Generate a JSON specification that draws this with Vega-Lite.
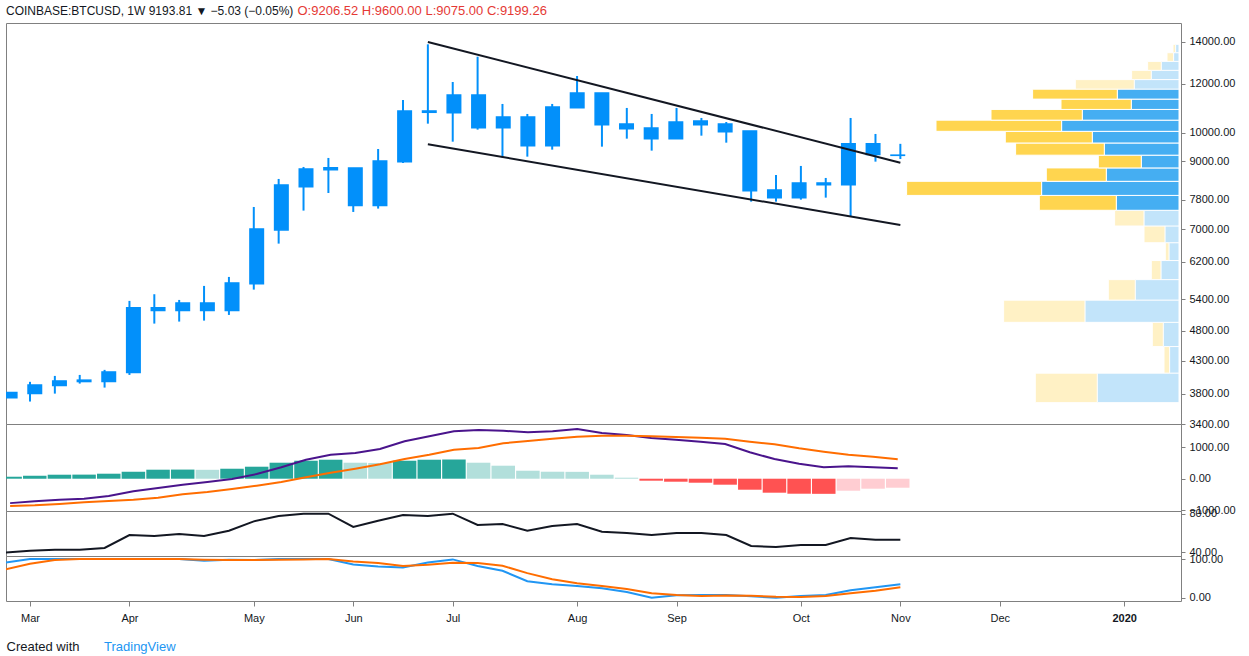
{
  "$schema": "https://vega.github.io/schema/vega-lite/v6.json",
  "padding": {"left": 5, "top": 4, "right": 0, "bottom": 0},
  "background": "white",
  "bounds": "flush",
  "spacing": 0,
  "title": {"text": "O:9206.52 H:9600.00 L:9075.00 C:9199.26", "orient": "top", "anchor": "start", "offset": -13, "dx": 292, "font": "Liberation Sans", "fontSize": 13, "fontWeight": "normal", "color": "#e53935"},
  "datasets": {
    "candles": [
      {"date": "2019-02-25", "o": 3749, "h": 3822, "l": 3745, "c": 3820},
      {"date": "2019-03-04", "o": 3805, "h": 3975, "l": 3695, "c": 3930},
      {"date": "2019-03-11", "o": 3920, "h": 4063, "l": 3805, "c": 3989},
      {"date": "2019-03-18", "o": 3979, "h": 4078, "l": 3949, "c": 4000},
      {"date": "2019-03-25", "o": 3979, "h": 4155, "l": 3891, "c": 4124},
      {"date": "2019-04-01", "o": 4113, "h": 5365, "l": 4078, "c": 5228},
      {"date": "2019-04-08", "o": 5228, "h": 5499, "l": 4932, "c": 5175},
      {"date": "2019-04-15", "o": 5175, "h": 5384, "l": 4969, "c": 5324},
      {"date": "2019-04-22", "o": 5324, "h": 5671, "l": 4987, "c": 5175},
      {"date": "2019-04-29", "o": 5175, "h": 5863, "l": 5093, "c": 5735},
      {"date": "2019-05-06", "o": 5719, "h": 7598, "l": 5594, "c": 7004},
      {"date": "2019-05-13", "o": 6978, "h": 8429, "l": 6633, "c": 8244},
      {"date": "2019-05-20", "o": 8191, "h": 8812, "l": 7496, "c": 8747},
      {"date": "2019-05-27", "o": 8789, "h": 9111, "l": 8002, "c": 8724},
      {"date": "2019-06-03", "o": 8779, "h": 8779, "l": 7459, "c": 7636},
      {"date": "2019-06-10", "o": 7636, "h": 9419, "l": 7552, "c": 9010},
      {"date": "2019-06-17", "o": 8987, "h": 11294, "l": 8943, "c": 10843},
      {"date": "2019-06-24", "o": 10843, "h": 13880, "l": 10345, "c": 10790},
      {"date": "2019-07-01", "o": 10775, "h": 12072, "l": 9677, "c": 11505},
      {"date": "2019-07-08", "o": 11505, "h": 13258, "l": 10118, "c": 10192},
      {"date": "2019-07-15", "o": 10192, "h": 11129, "l": 9121, "c": 10605},
      {"date": "2019-07-22", "o": 10605, "h": 10724, "l": 9155, "c": 9535},
      {"date": "2019-07-29", "o": 9535, "h": 11129, "l": 9395, "c": 11004},
      {"date": "2019-08-05", "o": 10976, "h": 12343, "l": 10976, "c": 11591},
      {"date": "2019-08-12", "o": 11591, "h": 11591, "l": 9500, "c": 10307},
      {"date": "2019-08-19", "o": 10333, "h": 10965, "l": 9786, "c": 10154},
      {"date": "2019-08-26", "o": 10181, "h": 10724, "l": 9361, "c": 9786},
      {"date": "2019-09-02", "o": 9786, "h": 10965, "l": 9786, "c": 10410},
      {"date": "2019-09-09", "o": 10448, "h": 10566, "l": 9895, "c": 10307},
      {"date": "2019-09-16", "o": 10333, "h": 10410, "l": 9642, "c": 10042},
      {"date": "2019-09-23", "o": 10069, "h": 10069, "l": 7749, "c": 8071},
      {"date": "2019-09-30", "o": 8092, "h": 8554, "l": 7749, "c": 7865},
      {"date": "2019-10-07", "o": 7865, "h": 8845, "l": 7806, "c": 8305},
      {"date": "2019-10-14", "o": 8305, "h": 8460, "l": 7865, "c": 8253},
      {"date": "2019-10-21", "o": 8253, "h": 10566, "l": 7330, "c": 9606},
      {"date": "2019-10-28", "o": 9606, "h": 9958, "l": 8987, "c": 9224},
      {"date": "2019-11-04", "o": 9206.52, "h": 9600, "l": 9075, "c": 9199.26}
    ],
    "trend": [
      {"line": "upper", "date": "2019-06-24", "price": 14000},
      {"line": "upper", "date": "2019-11-04", "price": 8953},
      {"line": "lower", "date": "2019-06-24", "price": 9585},
      {"line": "lower", "date": "2019-11-04", "price": 7108}
    ],
    "profile": [
      {"lo": 3680, "hi": 4105, "side": "up", "vol": 81.7, "va": "out"},
      {"lo": 3680, "hi": 4105, "side": "down", "vol": 62, "va": "out"},
      {"lo": 4105, "hi": 4530, "side": "up", "vol": 9.4, "va": "out"},
      {"lo": 4105, "hi": 4530, "side": "down", "vol": 5.6, "va": "out"},
      {"lo": 4530, "hi": 4955, "side": "up", "vol": 15.7, "va": "out"},
      {"lo": 4530, "hi": 4955, "side": "down", "vol": 11, "va": "out"},
      {"lo": 4955, "hi": 5380, "side": "up", "vol": 94, "va": "out"},
      {"lo": 4955, "hi": 5380, "side": "down", "vol": 81.4, "va": "out"},
      {"lo": 5380, "hi": 5805, "side": "up", "vol": 43.7, "va": "out"},
      {"lo": 5380, "hi": 5805, "side": "down", "vol": 27, "va": "out"},
      {"lo": 5805, "hi": 6230, "side": "up", "vol": 18, "va": "out"},
      {"lo": 5805, "hi": 6230, "side": "down", "vol": 9.7, "va": "out"},
      {"lo": 6230, "hi": 6655, "side": "up", "vol": 10, "va": "out"},
      {"lo": 6230, "hi": 6655, "side": "down", "vol": 3.7, "va": "out"},
      {"lo": 6655, "hi": 7080, "side": "up", "vol": 14, "va": "out"},
      {"lo": 6655, "hi": 7080, "side": "down", "vol": 21, "va": "out"},
      {"lo": 7080, "hi": 7505, "side": "up", "vol": 35, "va": "out"},
      {"lo": 7080, "hi": 7505, "side": "down", "vol": 29.4, "va": "out"},
      {"lo": 7505, "hi": 7930, "side": "up", "vol": 62.7, "va": "in"},
      {"lo": 7505, "hi": 7930, "side": "down", "vol": 77, "va": "in"},
      {"lo": 7930, "hi": 8355, "side": "up", "vol": 137.4, "va": "in"},
      {"lo": 7930, "hi": 8355, "side": "down", "vol": 135, "va": "in"},
      {"lo": 8355, "hi": 8780, "side": "up", "vol": 72.7, "va": "in"},
      {"lo": 8355, "hi": 8780, "side": "down", "vol": 60, "va": "in"},
      {"lo": 8780, "hi": 9205, "side": "up", "vol": 37.7, "va": "in"},
      {"lo": 8780, "hi": 9205, "side": "down", "vol": 43, "va": "in"},
      {"lo": 9205, "hi": 9630, "side": "up", "vol": 74.7, "va": "in"},
      {"lo": 9205, "hi": 9630, "side": "down", "vol": 88.7, "va": "in"},
      {"lo": 9630, "hi": 10055, "side": "up", "vol": 86.7, "va": "in"},
      {"lo": 9630, "hi": 10055, "side": "down", "vol": 87, "va": "in"},
      {"lo": 10055, "hi": 10480, "side": "up", "vol": 117.4, "va": "in"},
      {"lo": 10055, "hi": 10480, "side": "down", "vol": 125.6, "va": "in"},
      {"lo": 10480, "hi": 10905, "side": "up", "vol": 96.7, "va": "in"},
      {"lo": 10480, "hi": 10905, "side": "down", "vol": 91.3, "va": "in"},
      {"lo": 10905, "hi": 11330, "side": "up", "vol": 47.7, "va": "in"},
      {"lo": 10905, "hi": 11330, "side": "down", "vol": 70.3, "va": "in"},
      {"lo": 11330, "hi": 11755, "side": "up", "vol": 61.7, "va": "in"},
      {"lo": 11330, "hi": 11755, "side": "down", "vol": 84.7, "va": "in"},
      {"lo": 11755, "hi": 12180, "side": "up", "vol": 44.7, "va": "out"},
      {"lo": 11755, "hi": 12180, "side": "down", "vol": 59, "va": "out"},
      {"lo": 12180, "hi": 12605, "side": "up", "vol": 27.7, "va": "out"},
      {"lo": 12180, "hi": 12605, "side": "down", "vol": 19.7, "va": "out"},
      {"lo": 12605, "hi": 13030, "side": "up", "vol": 17.7, "va": "out"},
      {"lo": 12605, "hi": 13030, "side": "down", "vol": 13.7, "va": "out"},
      {"lo": 13030, "hi": 13455, "side": "up", "vol": 5.4, "va": "out"},
      {"lo": 13030, "hi": 13455, "side": "down", "vol": 6.6, "va": "out"},
      {"lo": 13455, "hi": 13880, "side": "up", "vol": 3.4, "va": "out"},
      {"lo": 13455, "hi": 13880, "side": "down", "vol": 2.6, "va": "out"}
    ],
    "ind": [
      {"date": "2019-02-25", "hist": 63, "state": "grow_up", "macd": -775, "signal": -867, "rsi": 39.7, "k": 90.4, "d": 73},
      {"date": "2019-03-04", "hist": 95, "state": "grow_up", "macd": -718, "signal": -845, "rsi": 41.8, "k": 100, "d": 87.8},
      {"date": "2019-03-11", "hist": 127, "state": "grow_up", "macd": -667, "signal": -803, "rsi": 42.8, "k": 100, "d": 97.4},
      {"date": "2019-03-18", "hist": 130, "state": "grow_up", "macd": -635, "signal": -749, "rsi": 42.8, "k": 100, "d": 100},
      {"date": "2019-03-25", "hist": 159, "state": "grow_up", "macd": -549, "signal": -708, "rsi": 44.6, "k": 100, "d": 100},
      {"date": "2019-04-01", "hist": 222, "state": "grow_up", "macd": -400, "signal": -667, "rsi": 58.1, "k": 100, "d": 100},
      {"date": "2019-04-08", "hist": 286, "state": "grow_up", "macd": -295, "signal": -603, "rsi": 57.1, "k": 100, "d": 100},
      {"date": "2019-04-15", "hist": 290, "state": "grow_up", "macd": -190, "signal": -495, "rsi": 59.2, "k": 100, "d": 100},
      {"date": "2019-04-22", "hist": 283, "state": "fall_up", "macd": -105, "signal": -422, "rsi": 57.1, "k": 95.6, "d": 98.2},
      {"date": "2019-04-29", "hist": 317, "state": "grow_up", "macd": -10, "signal": -327, "rsi": 62.6, "k": 98, "d": 97.4},
      {"date": "2019-05-06", "hist": 381, "state": "grow_up", "macd": 149, "signal": -222, "rsi": 72.3, "k": 97.4, "d": 97.4},
      {"date": "2019-05-13", "hist": 508, "state": "grow_up", "macd": 362, "signal": -105, "rsi": 77.9, "k": 100, "d": 98},
      {"date": "2019-05-20", "hist": 571, "state": "grow_up", "macd": 603, "signal": 44, "rsi": 80.3, "k": 100, "d": 99},
      {"date": "2019-05-27", "hist": 603, "state": "grow_up", "macd": 762, "signal": 190, "rsi": 80.3, "k": 100, "d": 100},
      {"date": "2019-06-03", "hist": 508, "state": "fall_up", "macd": 816, "signal": 317, "rsi": 66.5, "k": 86, "d": 93.8},
      {"date": "2019-06-10", "hist": 500, "state": "fall_up", "macd": 943, "signal": 457, "rsi": 73, "k": 80.7, "d": 89.5},
      {"date": "2019-06-17", "hist": 571, "state": "grow_up", "macd": 1187, "signal": 625, "rsi": 79, "k": 78, "d": 81.7},
      {"date": "2019-06-24", "hist": 603, "state": "grow_up", "macd": 1346, "signal": 762, "rsi": 77.9, "k": 91.2, "d": 85},
      {"date": "2019-07-01", "hist": 610, "state": "grow_up", "macd": 1505, "signal": 921, "rsi": 80.3, "k": 99, "d": 90.4},
      {"date": "2019-07-08", "hist": 508, "state": "fall_up", "macd": 1546, "signal": 975, "rsi": 68.5, "k": 81.7, "d": 89.5},
      {"date": "2019-07-15", "hist": 413, "state": "fall_up", "macd": 1524, "signal": 1124, "rsi": 69.6, "k": 69.5, "d": 82.5},
      {"date": "2019-07-22", "hist": 254, "state": "fall_up", "macd": 1473, "signal": 1197, "rsi": 62.6, "k": 42.7, "d": 63.5},
      {"date": "2019-07-29", "hist": 222, "state": "fall_up", "macd": 1505, "signal": 1270, "rsi": 67.5, "k": 34.9, "d": 47.9},
      {"date": "2019-08-05", "hist": 218, "state": "fall_up", "macd": 1578, "signal": 1333, "rsi": 69.6, "k": 30.5, "d": 37.5},
      {"date": "2019-08-12", "hist": 127, "state": "fall_up", "macd": 1451, "signal": 1365, "rsi": 61.6, "k": 24.5, "d": 30.5},
      {"date": "2019-08-19", "hist": 32, "state": "fall_up", "macd": 1387, "signal": 1365, "rsi": 60.2, "k": 14.8, "d": 22.7},
      {"date": "2019-08-26", "hist": -63, "state": "fall_down", "macd": 1292, "signal": 1346, "rsi": 58.1, "k": 0, "d": 11.5},
      {"date": "2019-09-02", "hist": -95, "state": "fall_down", "macd": 1238, "signal": 1324, "rsi": 60.2, "k": 6.2, "d": 7},
      {"date": "2019-09-09", "hist": -127, "state": "fall_down", "macd": 1175, "signal": 1302, "rsi": 60.2, "k": 7, "d": 4.4},
      {"date": "2019-09-16", "hist": -190, "state": "fall_down", "macd": 1102, "signal": 1270, "rsi": 58.1, "k": 7, "d": 5.7},
      {"date": "2019-09-23", "hist": -349, "state": "fall_down", "macd": 838, "signal": 1175, "rsi": 46.7, "k": 3.6, "d": 5},
      {"date": "2019-09-30", "hist": -444, "state": "fall_down", "macd": 625, "signal": 1092, "rsi": 45.6, "k": 0, "d": 2.6},
      {"date": "2019-10-07", "hist": -476, "state": "fall_down", "macd": 476, "signal": 965, "rsi": 47.7, "k": 4.4, "d": 1.8},
      {"date": "2019-10-14", "hist": -480, "state": "fall_down", "macd": 362, "signal": 857, "rsi": 47.7, "k": 7, "d": 4.4},
      {"date": "2019-10-21", "hist": -381, "state": "grow_down", "macd": 394, "signal": 762, "rsi": 55, "k": 19.3, "d": 11.5},
      {"date": "2019-10-28", "hist": -317, "state": "grow_down", "macd": 362, "signal": 698, "rsi": 53.2, "k": 27, "d": 18.2},
      {"date": "2019-11-04", "hist": -286, "state": "grow_down", "macd": 330, "signal": 616, "rsi": 53.2, "k": 34.9, "d": 27}
    ]
  },
  "vconcat": [
    {
      "width": 1175,
      "height": 401,
      "title": {"text": "COINBASE:BTCUSD, 1W  9193.81 ▼ −5.03 (−0.05%)", "anchor": "start", "offset": 5, "font": "Liberation Sans", "fontSize": 12, "fontWeight": "normal", "color": "#131722"},
      "layer": [
        {
          "data": {"name": "profile"},
          "transform": [
            {"stack": "vol", "groupby": ["lo"], "sort": [{"field": "side", "order": "descending"}], "as": ["v0", "v1"]}
          ],
          "mark": {"type": "rect", "stroke": "white", "strokeWidth": 1},
          "encoding": {
            "x": {"field": "v0", "type": "quantitative", "scale": {"domain": [-2, 1173], "reverse": true, "nice": false, "zero": false}, "axis": null},
            "x2": {"field": "v1"},
            "y": {"field": "lo", "type": "quantitative", "scale": {"type": "log", "domain": [3400, 15021], "nice": false, "zero": false},
                  "axis": {"orient": "right", "title": null, "format": ".2f", "values": [3400, 3800, 4300, 4800, 5400, 6200, 7000, 7800, 9000, 10000, 12000, 14000]}},
            "y2": {"field": "hi"},
            "color": {"field": "side", "type": "nominal", "scale": {"domain": ["up", "down"], "range": ["#45aef2", "#ffd54f"]}, "legend": null},
            "opacity": {"field": "va", "type": "nominal", "scale": {"domain": ["in", "out"], "range": [1, 0.32]}, "legend": null}
          }
        },
        {
          "data": {"name": "candles"},
          "mark": {"type": "rule", "color": "#0290fa", "strokeWidth": 2, "clip": true},
          "encoding": {
            "x": {"field": "date", "type": "temporal", "scale": {"type": "utc", "domain": [{"year": 2019, "month": 2, "date": 25, "hours": 6, "utc": true}, {"year": 2020, "month": 1, "date": 22, "utc": true}]}, "axis": null},
            "y": {"field": "l", "type": "quantitative", "title": null},
            "y2": {"field": "h"}
          }
        },
        {
          "data": {"name": "candles"},
          "mark": {"type": "bar", "color": "#0290fa", "stroke": "#0290fa", "strokeWidth": 1.5, "width": 13.5, "clip": true},
          "encoding": {
            "x": {"field": "date", "type": "temporal", "scale": {"type": "utc", "domain": [{"year": 2019, "month": 2, "date": 25, "hours": 6, "utc": true}, {"year": 2020, "month": 1, "date": 22, "utc": true}]}, "axis": null},
            "y": {"field": "o", "type": "quantitative", "title": null},
            "y2": {"field": "c"}
          }
        },
        {
          "data": {"name": "trend"},
          "mark": {"type": "line", "color": "#131722", "strokeWidth": 2, "clip": true},
          "encoding": {
            "x": {"field": "date", "type": "temporal", "scale": {"type": "utc", "domain": [{"year": 2019, "month": 2, "date": 25, "hours": 6, "utc": true}, {"year": 2020, "month": 1, "date": 22, "utc": true}]}, "axis": null},
            "y": {"field": "price", "type": "quantitative", "title": null},
            "detail": {"field": "line", "type": "nominal"}
          }
        }
      ],
      "resolve": {"scale": {"x": "independent"}}
    },
    {
      "width": 1175,
      "height": 87,
      "data": {"name": "ind"},
      "encoding": {
        "x": {"field": "date", "type": "temporal", "scale": {"type": "utc", "domain": [{"year": 2019, "month": 2, "date": 25, "hours": 6, "utc": true}, {"year": 2020, "month": 1, "date": 22, "utc": true}]}, "axis": null}
      },
      "layer": [
        {
          "mark": {"type": "bar", "width": 23.5, "clip": true},
          "encoding": {
            "y": {"field": "hist", "type": "quantitative", "scale": {"domain": [-1025, 1737], "nice": false, "zero": false},
                  "axis": {"orient": "right", "title": null, "format": ".2f", "values": [-1000, 0, 1000]}},
            "y2": {"datum": 0},
            "color": {"field": "state", "type": "nominal", "scale": {"domain": ["grow_up", "fall_up", "fall_down", "grow_down"], "range": ["#26a69a", "#b2dfdb", "#ff5252", "#ffcdd2"]}, "legend": null}
          }
        },
        {
          "mark": {"type": "line", "color": "#4a148c", "strokeWidth": 2, "clip": true},
          "encoding": {"y": {"field": "macd", "type": "quantitative", "title": null}}
        },
        {
          "mark": {"type": "line", "color": "#ff6d00", "strokeWidth": 2, "clip": true},
          "encoding": {"y": {"field": "signal", "type": "quantitative", "title": null}}
        }
      ]
    },
    {
      "width": 1175,
      "height": 45,
      "data": {"name": "ind"},
      "mark": {"type": "line", "color": "#131722", "strokeWidth": 2, "clip": true},
      "encoding": {
        "x": {"field": "date", "type": "temporal", "scale": {"type": "utc", "domain": [{"year": 2019, "month": 2, "date": 25, "hours": 6, "utc": true}, {"year": 2020, "month": 1, "date": 22, "utc": true}]}, "axis": null},
        "y": {"field": "rsi", "type": "quantitative", "scale": {"domain": [36.25, 83.1], "nice": false, "zero": false},
              "axis": {"orient": "right", "title": null, "format": ".2f", "values": [40, 80]}}
      }
    },
    {
      "width": 1175,
      "height": 45,
      "data": {"name": "ind"},
      "title": {"text": "TradingView", "orient": "bottom", "anchor": "start", "offset": 0, "dx": 98, "dy": -12, "font": "Liberation Sans", "fontSize": 13, "fontWeight": "normal", "color": "#2196f3"},
      "encoding": {
        "x": {"field": "date", "type": "temporal",
              "scale": {"type": "utc", "domain": [{"year": 2019, "month": 2, "date": 25, "hours": 6, "utc": true}, {"year": 2020, "month": 1, "date": 22, "utc": true}]},
              "axis": {
                "orient": "bottom",
                "values": [
                  {"year": 2019, "month": 3, "date": 4, "utc": true},
                  {"year": 2019, "month": 4, "date": 1, "utc": true},
                  {"year": 2019, "month": 5, "date": 6, "utc": true},
                  {"year": 2019, "month": 6, "date": 3, "utc": true},
                  {"year": 2019, "month": 7, "date": 1, "utc": true},
                  {"year": 2019, "month": 8, "date": 5, "utc": true},
                  {"year": 2019, "month": 9, "date": 2, "utc": true},
                  {"year": 2019, "month": 10, "date": 7, "utc": true},
                  {"year": 2019, "month": 11, "date": 4, "utc": true},
                  {"year": 2019, "month": 12, "date": 2, "utc": true},
                  {"year": 2020, "month": 1, "date": 6, "utc": true}
                ],
                "labelExpr": "utcmonth(datum.value) == 0 ? utcFormat(datum.value, '%Y') : utcFormat(datum.value, '%b')",
                "labelFontWeight": {"condition": {"test": "utcmonth(datum.value) == 0", "value": "bold"}, "value": "normal"},
                "tickSize": 5,
                "labelPadding": 6,
                "title": "Created with",
                "titleAnchor": "start",
                "titleFont": "Liberation Sans",
                "titleFontSize": 13,
                "titleFontWeight": "normal",
                "titleColor": "#131722",
                "titlePadding": 17
              }}
      },
      "layer": [
        {
          "mark": {"type": "line", "color": "#2196f3", "strokeWidth": 2, "clip": true},
          "encoding": {
            "y": {"field": "k", "type": "quantitative", "scale": {"domain": [-8.6, 107.8], "nice": false, "zero": false},
                  "axis": {"orient": "right", "title": null, "format": ".2f", "values": [0, 100]}}
          }
        },
        {
          "mark": {"type": "line", "color": "#ff6d00", "strokeWidth": 2, "clip": true},
          "encoding": {"y": {"field": "d", "type": "quantitative", "title": null}}
        }
      ]
    }
  ],
  "resolve": {"scale": {"color": "independent", "opacity": "independent"}},
  "config": {
    "view": {"stroke": "#808080", "strokeWidth": 1},
    "axis": {
      "grid": false,
      "domain": false,
      "labelFont": "Liberation Sans",
      "labelFontSize": 11,
      "labelColor": "#131722",
      "tickColor": "#808080",
      "tickSize": 4,
      "labelPadding": 4,
      "labelOverlap": false,
      "labelFlush": false
    }
  }
}
